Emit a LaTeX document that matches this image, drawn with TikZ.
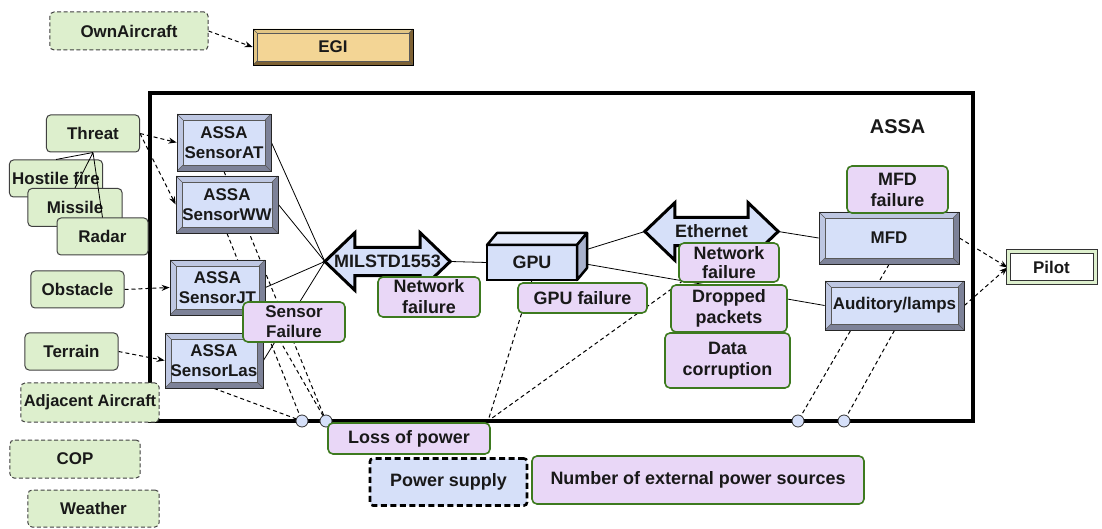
\documentclass[tikz,border=0pt]{standalone}
\usepackage{fontspec}
\setmainfont{Liberation Sans}
\usetikzlibrary{calc,arrows.meta}
\pgfdeclarelayer{bg}
\pgfdeclarelayer{mid}
\pgfsetlayers{bg,mid,main}
\definecolor{envfill}{HTML}{DDEFCD}
\definecolor{failfill}{HTML}{E9D7F7}
\definecolor{failline}{HTML}{3D7A1F}
\definecolor{blufill}{HTML}{D6E0F9}
\definecolor{bevlight}{HTML}{BEC7E2}
\definecolor{bevdark}{HTML}{7D8298}
\definecolor{tanfill}{HTML}{F3D595}
\definecolor{tanlight}{HTML}{E2C584}
\definecolor{tandark}{HTML}{7E6234}
\definecolor{gputop}{HTML}{E4EAFB}
\definecolor{gpuside}{HTML}{A9B2CC}
\newcommand\dblarrowshape[1]{%
  \filldraw[fill=blufill, draw=black, line width=3bp, line join=miter]
    (#1.west) -- ($(#1.north west)+(30bp,0)$) -- ($(#1.north west)+(30bp,-14.5bp)$)
    -- ($(#1.north east)+(-30bp,-14.5bp)$) -- ($(#1.north east)+(-30bp,0)$) -- (#1.east)
    -- ($(#1.south east)+(-30bp,0)$) -- ($(#1.south east)+(-30bp,14.5bp)$)
    -- ($(#1.south west)+(30bp,14.5bp)$) -- ($(#1.south west)+(30bp,0)$) -- cycle;}
\begin{document}
\begin{tikzpicture}[x=1bp,y=-1bp,
  txt/.style={font=\bfseries\fontsize{17}{20}\selectfont, align=center, inner sep=0pt, text=black!90},
  big/.style={font=\bfseries\fontsize{18}{21}\selectfont},
  envbox/.style={txt, draw=black!75, line width=1bp, fill=envfill, rounded corners=4bp},
  envdash/.style={envbox, dash pattern=on 4bp off 2.5bp},
  fail/.style={txt, draw=failline, line width=1.6bp, fill=failfill, rounded corners=5bp},
  bevel/.style n args={4}{draw=black!85, line width=0.8bp, fill=#3,
    path picture={
      \coordinate (bvA) at (path picture bounding box.south west);
      \coordinate (bvB) at (path picture bounding box.north east);
      \fill[#2] (bvA) -- ($(bvA)+(#4,#4)$) -- ($(bvA|-bvB)+(#4,-#4)$) -- ($(bvB)+(-#4,-#4)$) -- (bvB) -- (bvA|-bvB) -- cycle;
      \filldraw[fill=#1, draw=black!65, line width=0.5bp] ($(bvA)+(#4,#4)$) rectangle ($(bvB)+(-#4,-#4)$);
      \draw[black!65, line width=0.5bp] (bvA) -- ++(#4,#4) (bvB) -- ++(-#4,-#4)
        (bvA|-bvB) -- ++(#4,-#4) (bvB|-bvA) -- ++(-#4,#4);
    }},
  sensor/.style={txt, bevel={blufill}{bevlight}{bevdark}{6bp}},
  egibox/.style={txt, bevel={tanfill}{tanlight}{tandark}{4bp}, draw=black},
  arrowlabel/.style={txt, big, minimum height=57bp, inner sep=0pt},
  pwr/.style={circle, draw=black!80, line width=0.8bp, fill=blufill, minimum size=12bp, inner sep=0pt},
  conn/.style={draw=black, line width=0.8bp},
  dconn/.style={draw=black, line width=1bp, dash pattern=on 4bp off 3bp},
  darrow/.style={dconn, -{Stealth[length=8bp,width=6bp]}},
  pilotbox/.style={txt, draw=black!80, line width=1bp, double=envfill, double distance=3bp, fill=white}
]
\useasboundingbox (0,0) rectangle (1102,529);

% environment nodes
\node[envdash, minimum width=158bp, minimum height=38bp] (own) at (129,31) {OwnAircraft};
\node[egibox, minimum width=160bp, minimum height=36bp] (egi) at (333,47) {EGI};

\node[envbox, minimum width=93bp, minimum height=37bp] (threat) at (93,133.5) {Threat};
\node[envbox, minimum width=93bp, minimum height=37bp] (hostile) at (56,178.5) {Hostile fire};
\node[envbox, minimum width=94bp, minimum height=38bp] (missile) at (75,207.5) {Missile};
\node[envbox, minimum width=91bp, minimum height=37bp] (radar) at (102.5,236.5) {Radar};
\draw[conn] (threat.south) -- (hostile.north) (threat.south) -- (missile.north) (threat.south) -- (radar.north);

\node[envbox, minimum width=93bp, minimum height=37bp] (obstacle) at (77.5,289.5) {Obstacle};
\node[envbox, minimum width=93bp, minimum height=37bp] (terrain) at (71.5,351.5) {Terrain};
\node[envdash, minimum width=138bp, minimum height=39bp, font=\bfseries\fontsize{16.5}{20}\selectfont] (adj) at (90,402.5) {Adjacent Aircraft};
\node[envdash, minimum width=130bp, minimum height=38bp] (cop) at (75,459) {COP};
\node[envdash, minimum width=131bp, minimum height=37bp] (weather) at (93.5,508.5) {Weather};

% sensors
\node[sensor, minimum width=94bp, minimum height=57bp] (sat) at (224,142.5) {ASSA\\SensorAT};
\node[sensor, minimum width=102bp, minimum height=57bp] (sww) at (227,204.5) {ASSA\\SensorWW};
\node[sensor, minimum width=95bp, minimum height=55bp] (sjt) at (217.5,287.5) {ASSA\\SensorJT};
\node[sensor, minimum width=98bp, minimum height=55bp] (sls) at (214,360.5) {ASSA\\SensorLas};

% network and GPU
\node[arrowlabel, minimum width=125bp] (mil) at (387.5,261.5) {\makebox[0pt]{MILSTD1553}};
\node[txt, big, draw=black, line width=2.5bp, fill=blufill, minimum width=90bp, minimum height=35bp, outer sep=0pt] (gpu) at (532,262.5) {GPU};
\filldraw[fill=gputop, draw=black, line width=2.5bp, line join=round]
  (gpu.north west) -- ++(10bp,12bp) -- ($(gpu.north east)+(10bp,12bp)$) -- (gpu.north east) -- cycle;
\filldraw[fill=gpuside, draw=black, line width=2.5bp, line join=round]
  (gpu.north east) -- ++(10bp,12bp) -- ($(gpu.south east)+(10bp,12bp)$) -- (gpu.south east) -- cycle;
\node[arrowlabel, minimum width=133bp] (eth) at (711.5,231.5) {\makebox[0pt]{Ethernet}};

% displays
\node[sensor, minimum width=140bp, minimum height=52bp] (mfd) at (889,238) {MFD};
\node[sensor, minimum width=139bp, minimum height=49bp] (aud) at (894.5,305.5) {Auditory/lamps};
\node[pilotbox, minimum width=87bp, minimum height=31bp] (pilot) at (1051.5,267.5) {Pilot};

% power points
\node[pwr] (c1) at (302,421) {};
\node[pwr] (c2) at (326,421) {};
\node[pwr] (c3) at (798,421) {};
\node[pwr] (c4) at (844,421) {};
\coordinate (cp) at (488,421);

% failure modes
\node[fail, minimum width=102bp, minimum height=40bp] (sfail) at (294,322) {Sensor\\Failure};
\node[fail, big, minimum width=102bp, minimum height=40bp] (nfail1) at (429,297) {Network\\failure};
\node[fail, big, minimum width=129bp, minimum height=30bp] (gfail) at (582.5,298) {GPU failure};
\node[fail, big, minimum width=100bp, minimum height=39bp, font=\bfseries\fontsize{18}{19}\selectfont] (nfail2) at (729,262.5) {Network\\failure};
\node[fail, big, minimum width=116bp, minimum height=47bp] (dropped) at (729,308.5) {Dropped\\packets};
\node[fail, big, minimum width=125bp, minimum height=55bp] (corrupt) at (727.5,360.5) {Data\\corruption};
\node[fail, big, minimum width=101bp, minimum height=47bp] (mfdfail) at (897.5,189.5) {MFD\\failure};
\node[fail, big, minimum width=162bp, minimum height=31bp] (loss) at (409,438.5) {Loss of power};
\node[txt, big, draw=black, line width=2.6bp, dash pattern=on 6bp off 3.5bp, fill=blufill, rounded corners=3bp, minimum width=157bp, minimum height=47bp] (psupply) at (448.5,482) {Power supply};
\node[fail, big, minimum width=332bp, minimum height=48bp] (nsources) at (698,480) {Number of external power sources};

% double-arrow bodies behind their labels
\begin{pgfonlayer}{mid}
\dblarrowshape{mil}
\dblarrowshape{eth}
\end{pgfonlayer}

% background: ASSA frame and connectors
\begin{pgfonlayer}{bg}
\node[draw=black, line width=3.2bp, minimum width=823bp, minimum height=328bp, inner sep=0pt,
  label={[txt, font=\bfseries\fontsize{20}{22}\selectfont, anchor=center, xshift=-77bp, yshift=-35bp]north east:ASSA}] (assa) at (561.5,257) {};
\draw[darrow] (own.east) -- (egi.west);
\draw[darrow] (threat.east) -- (sat.west);
\draw[darrow] (threat.east) -- (sww.west);
\draw[darrow] (obstacle.east) -- (sjt.west);
\draw[darrow] (terrain.east) -- (sls.west);
\draw[conn] (sat.east) -- (mil.west);
\draw[conn] (sww.east) -- (mil.west);
\draw[conn] (sjt.east) -- (mil.west);
\draw[conn] (sls.east) -- (mil.west);
\draw[conn] (mil.east) -- (gpu.west);
\draw[conn] ($(gpu.east)+(0,10bp)$) -- (eth.west);
\draw[conn] (gpu.east) -- (aud.west);
\draw[conn] (eth.east) -- (mfd.west);
\draw[darrow] (mfd.east) -- (pilot.west);
\draw[darrow] (aud.east) -- (pilot.west);
\draw[dconn] (sat.south) -- (c2.center);
\draw[dconn] (sww.south) -- (c1.center);
\draw[dconn] (sjt.south east) -- (c2.center);
\draw[dconn] (sls.south) -- (c1.center);
\draw[dconn] (gpu.south) -- (cp);
\draw[dconn] (eth.south) -- (cp);
\draw[dconn] (mfd.south) -- (c3.center);
\draw[dconn] (aud.south) -- (c4.center);
\end{pgfonlayer}
\end{tikzpicture}
\end{document}
